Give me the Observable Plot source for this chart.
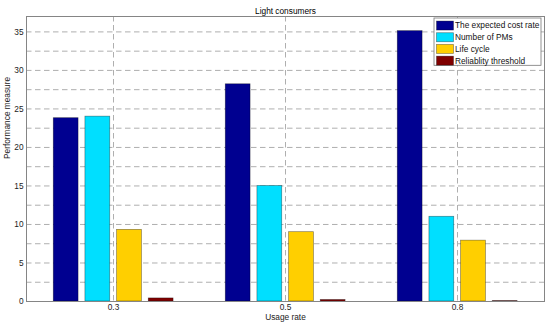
<!DOCTYPE html>
<html>
<head>
<meta charset="utf-8">
<script src="https://cdn.jsdelivr.net/npm/d3@7"></script>
<script src="https://cdn.jsdelivr.net/npm/@observablehq/plot@0.6"></script>
<style>
  html, body { margin: 0; padding: 0; background: #fff; }
  #chart { width: 550px; height: 328px; }
</style>
</head>
<body>
<div id="chart"></div>
<script>
// ---- data ----
const groups = ["0.3", "0.5", "0.8"];
const seriesNames = ["The expected cost rate", "Number of PMs", "Life cycle", "Reliablity threshold"];
const expectedCostRate = [23.8, 28.2, 35.1];
const numberOfPMs = [24.0, 15.0, 11.0];
const lifeCycle = [9.3, 9.0, 7.9];
const reliabilityThreshold = [0.4, 0.2, 0.05];
const seriesColors = ["#000090", "#00dfff", "#ffcf00", "#800000"];
const yTicks = [0, 5, 10, 15, 20, 25, 30, 35];
const yGrid = [2.5, 5, 7.5, 10, 12.5, 15, 17.5, 20, 22.5, 25, 27.5, 30, 32.5, 35];
const title = "Light consumers";
const xLabel = "Usage rate";
const yLabel = "Performance measure";

const seriesValues = [expectedCostRate, numberOfPMs, lifeCycle, reliabilityThreshold];

// ---- layout ----
const W = 550, H = 328, mL = 26, mR = 6, mT = 16, mB = 27;
const bw = (W - mL - mR) / groups.length;
const barW = bw * 0.1477, firstOff = bw * 0.152, pitch = bw * 0.1834;

const barMarks = seriesValues.map((vals, i) => {
  const data = groups.map((g, j) => ({group: g, value: vals[j], series: seriesNames[i]}));
  const left = firstOff + i * pitch;
  return Plot.barY(data, {
    x: "group", y: "value",
    fill: seriesColors[i],
    stroke: "#000", strokeOpacity: 0.45, strokeWidth: 0.7,
    insetLeft: left, insetRight: bw - left - barW
  });
});

const chart = Plot.plot({
  width: W, height: H,
  marginLeft: mL, marginRight: mR, marginTop: mT, marginBottom: mB,
  style: {fontFamily: "'Liberation Sans', Arial, sans-serif", fontSize: "8.3px", color: "#222", background: "#fff"},
  x: {type: "band", domain: groups, padding: 0, label: null},
  y: {domain: [0, 37], label: null},
  marks: [
    Plot.ruleY(yGrid, {stroke: "#9a9a9a", strokeDasharray: "5.5,3.5", strokeWidth: 0.8}),
    Plot.gridX({stroke: "#9a9a9a", strokeOpacity: 1, strokeDasharray: "5.5,3.5", strokeWidth: 0.8}),
    ...barMarks,
    Plot.frame({stroke: "#858585", strokeWidth: 1}),
    Plot.axisY({ticks: yTicks, tickSize: 0, tickPadding: 3, label: null}),
    Plot.axisX({tickSize: 0, tickPadding: 3, label: null}),
    Plot.text([title], {frameAnchor: "top", dy: -8, fill: "#000", fontSize: 8.3}),
    Plot.text([xLabel], {frameAnchor: "bottom", dy: 18, fill: "#222", fontSize: 8.3}),
    Plot.text([yLabel], {frameAnchor: "left", dx: -19, rotate: -90, fill: "#222", fontSize: 8.3})
  ]
});

document.getElementById("chart").appendChild(chart);

// ---- legend (inside the plot, top right) ----
const svg = d3.select(chart);
const lx = 434, ly = 18, lw = 107, rowH = 11.7;
const lg = svg.append("g")
  .attr("font-family", "'Liberation Sans', Arial, sans-serif")
  .attr("font-size", "8.3px")
  .attr("text-anchor", "start");
lg.append("rect").attr("x", lx).attr("y", ly).attr("width", lw).attr("height", rowH * seriesNames.length + 0.5)
  .attr("fill", "#fff").attr("stroke", "#777").attr("stroke-width", 0.8);
seriesNames.forEach((name, i) => {
  const cy = ly + 2.3 + rowH * i + rowH / 2 - 0.6;
  lg.append("rect").attr("x", lx + 2.5).attr("y", cy - 4.5).attr("width", 17).attr("height", 9)
    .attr("fill", seriesColors[i]).attr("stroke", "#000").attr("stroke-opacity", 0.45).attr("stroke-width", 0.7);
  lg.append("text").attr("x", lx + 21).attr("y", cy).attr("dy", "0.35em")
    .attr("text-anchor", "start").attr("fill", "#111").text(name);
});
</script>
</body>
</html>
